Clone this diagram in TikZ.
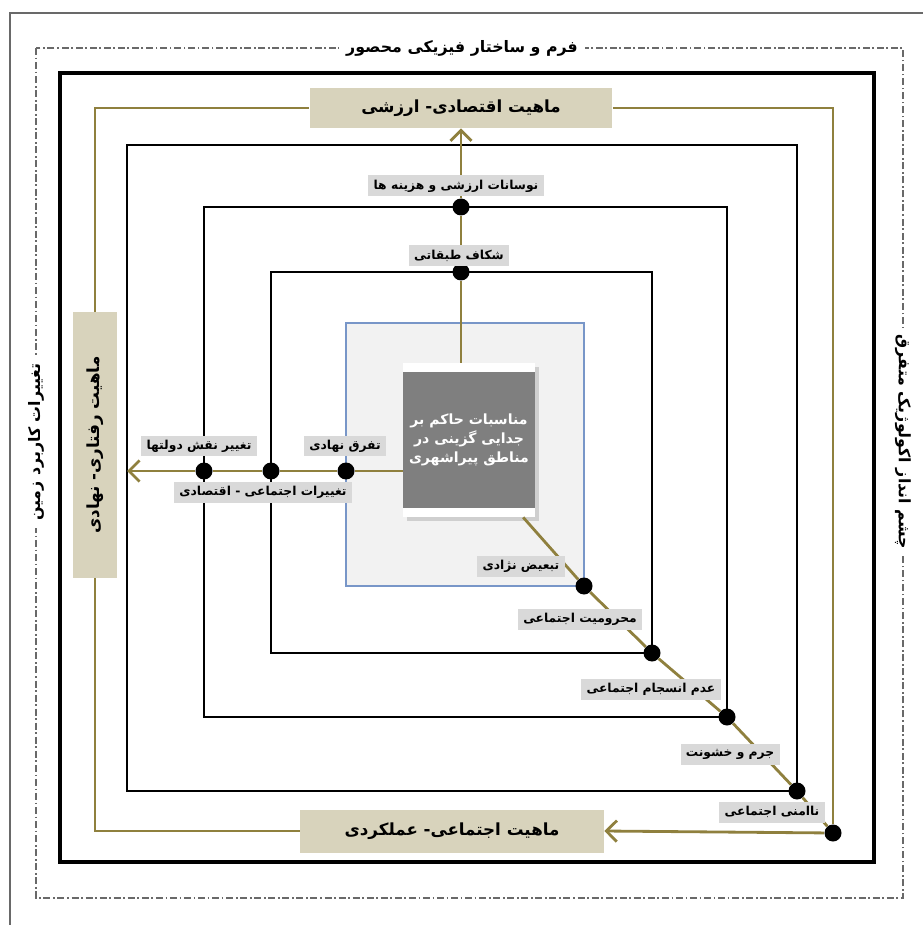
\documentclass[tikz,border=0pt]{standalone}
\usepackage{fontspec}
\newfontfamily\fa[Script=Arabic]{DejaVu Sans}
\TeXXeTstate=1
\usetikzlibrary{arrows.meta,shadows}
\definecolor{olivine}{RGB}{143,128,62}
\definecolor{boxtan}{RGB}{216,211,188}
\definecolor{labgray}{RGB}{217,217,217}
\definecolor{coregray}{RGB}{127,127,127}
\definecolor{framegray}{RGB}{105,105,105}
\definecolor{bluefr}{RGB}{120,150,200}
\definecolor{panel}{RGB}{242,242,242}
\newcommand{\rl}[1]{\beginR#1\endR}

\begin{document}
\begin{tikzpicture}[x=0.02cm, y=-0.02cm,
    >={Straight Barb[length=6pt,width=12pt]},
    dot/.style={circle, fill=black, inner sep=0pt, minimum size=0.34cm},
    lab/.style={fill=labgray, inner xsep=3pt, inner ysep=2pt, minimum height=0.42cm,
      font=\fa\bfseries\fontsize{7}{9}\selectfont},
    mainbox/.style={fill=boxtan, font=\fa\bfseries\fontsize{9.5}{12}\selectfont},
    axis/.style={draw=olivine, line width=1.6pt},
    ring/.style={draw=olivine, line width=1.1pt},
    wall/.style={draw=black, line width=1.2pt},
    title/.style={fill=white, inner sep=4pt, font=\fa\bfseries\fontsize{9}{12}\selectfont}]
	\useasboundingbox (0,0) rectangle (923,925);

	% frames
	\draw[framegray, line width=1pt] (10,925) -- (10,13) -- (923,13);
	\draw[framegray, line width=1pt, dash pattern=on 4pt off 1.5pt on 1pt off 1.5pt] (36,48) rectangle (903,898);
	\draw[line width=2.8pt] (60,73) rectangle (874,862);
	\draw[wall] (127,145) rectangle (797,791);
	\draw[wall] (204,207) rectangle (727,717);
	\draw[wall] (271,272) rectangle (652,653);
	\draw[bluefr, fill=panel, line width=0.6pt] (346,323) rectangle (584,586);

	% core
	\node[fill=white, drop shadow={opacity=0.3}, minimum width=2.64cm, minimum height=3.08cm] (cbox) at (469,440) {};
	\node[fill=coregray, text=white, align=center, minimum width=2.28cm, minimum height=2.72cm,
	  font=\fa\bfseries\fontsize{8}{11}\selectfont] (core) at (cbox) {\rl{مناسبات حاکم بر}\\\rl{جدایی گزینی در}\\\rl{مناطق پیراشهری}};

	\node[mainbox, minimum width=6.06cm, minimum height=0.8cm] (tbox) at (461,108) {\rl{ماهیت اقتصادی- ارزشی}};
	\node[mainbox, minimum width=6.08cm, minimum height=0.86cm] (bbox) at (452,831) {\rl{ماهیت اجتماعی- عملکردی}};
	\node[mainbox, rotate=90, minimum width=5.32cm, minimum height=0.9cm] (lbox) at (95,445) {\rl{ماهیت رفتاری- نهادی}};

	% points
	\node[dot] (n1) at (461,207) {};
	\node[dot] (n2) at (461,272) {};
	\node[dot] (h1) at (204,471) {};
	\node[dot] (h2) at (271,471) {};
	\node[dot] (h3) at (346,471) {};
	\node[dot] (d1) at (584,586) {};
	\node[dot] (d2) at (652,653) {};
	\node[dot] (d3) at (727,717) {};
	\node[dot] (d4) at (797,791) {};
	\node[dot] (d5) at (833,833) {};
	\coordinate (hend) at (127,471);

	% loop
	\draw[ring] (lbox.east) |- (tbox.west);
	\draw[ring] (tbox.east) -| (d5);
	\draw[ring] (lbox.west) |- (bbox.west);
	\draw[axis,->] (d5) -- (bbox.east);

	% axes
	\draw[axis,->] (cbox.north -| n2) -- (n2) -- (n1) -- (tbox.south -| n1);
	\draw[axis,->] (cbox.west |- h3) -- (h3) -- (h2) -- (h1) -- (hend);
	\draw[axis] (cbox.-55) -- (d1) -- (d2) -- (d3) -- (d4) -- (d5);

	% labels
	\node[lab] (la1) at (456,186) {\rl{نوسانات ارزشی و هزینه ها}};
	\node[lab] (la2) at (459,256) {\rl{شکاف طبقاتی}};
	\node[lab] (lb1) at (199,446) {\rl{تغییر نقش دولتها}};
	\node[lab] (lb2) at (263,492) {\rl{تغییرات اجتماعی - اقتصادی}};
	\node[lab] (lb3) at (345,446) {\rl{تفرق نهادی}};
	\node[lab] (lc1) at (521,566) {\rl{تبعیض نژادی}};
	\node[lab] (lc2) at (580,619) {\rl{محرومیت اجتماعی}};
	\node[lab] (lc3) at (651,689) {\rl{عدم انسجام اجتماعی}};
	\node[lab] (lc4) at (730,754) {\rl{جرم و خشونت}};
	\node[lab] (lc5) at (772,812) {\rl{ناامنی اجتماعی}};

	% titles
	\node[title] (ttop) at (462,48) {\rl{فرم و ساختار فیزیکی محصور}};
	\node[title, rotate=90] (tleft) at (36,442) {\rl{تغییرات کاربرد زمین}};
	\node[title, rotate=-90] (tright) at (903,442) {\rl{چشم انداز اکولوژیک متفرق}};
\end{tikzpicture}
\end{document}
